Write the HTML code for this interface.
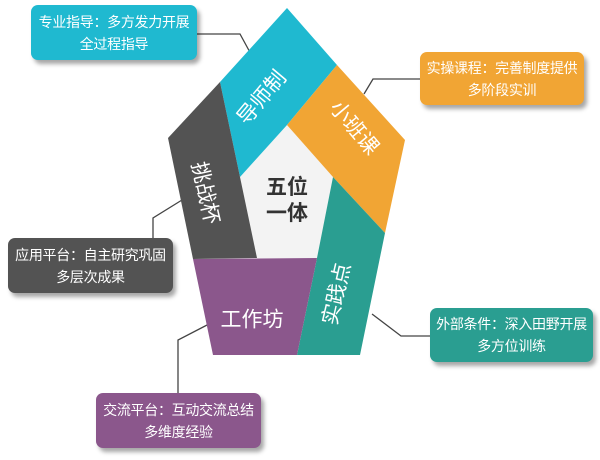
<!DOCTYPE html>
<html><head><meta charset="utf-8"><style>
body{margin:0;width:600px;height:460px;background:#fff;overflow:hidden;font-family:"Liberation Sans","Noto Sans CJK SC",sans-serif}
.box{position:absolute;border-radius:7px;color:#fff;font-size:14px;line-height:22px;text-align:center;box-shadow:3px 4px 4px rgba(0,0,0,.35);display:flex;align-items:center;justify-content:center;white-space:nowrap;letter-spacing:-0.3px}
</style></head><body>
<svg width="600" height="460" style="position:absolute;left:0;top:0" font-family="Liberation Sans, Noto Sans CJK SC, sans-serif">
<g fill="none" stroke="#444" stroke-width="1.3">
<polyline points="197,34 240,34 252,56"/>
<polyline points="420,79 373,79 364,94"/>
<polyline points="153,238 153,218 182,200"/>
<polyline points="430,336 401,336 372,314"/>
<polyline points="178,393 178,340 209,324"/>
</g>
<polygon points="287,125 333,177 317,258 257,258 240,177" fill="#f3f3f3"/>
<polygon points="220,82 287,8 337,65 287,125 240,177" fill="#1fb9d0"/>
<polygon points="337,65 405,140 385,233 333,177 287,125" fill="#f1a534"/>
<polygon points="385,233 360,355 297,355 317,258 333,177" fill="#2a9e91"/>
<polygon points="193,259 317,258 297,355 213,355" fill="#8b578c"/>
<polygon points="168,138 220,82 240,177 257,258 193,259" fill="#535353"/>
<g fill="#fff" font-size="21" text-anchor="middle" dominant-baseline="central">
<text transform="translate(262,98) rotate(-50)">导师制</text>
<text transform="translate(354,128) rotate(50)">小班课</text>
<text transform="translate(205,193) rotate(77)">挑战杯</text>
<text transform="translate(337,294) rotate(-77)">实践点</text>
<text x="252" y="320">工作坊</text>
</g>
<g fill="#333" font-size="21" font-weight="bold" text-anchor="middle">
<text x="287" y="194">五位</text>
<text x="287" y="220">一体</text>
</g>
</svg>
<div class="box" style="left:31px;top:5px;width:166px;height:55px;background:#1fb9d0">专业指导：多方发力开展<br>全过程指导</div>
<div class="box" style="left:420px;top:52px;width:164px;height:53px;background:#f1a534">实操课程：完善制度提供<br>多阶段实训</div>
<div class="box" style="left:8px;top:238px;width:165px;height:55px;background:#535353">应用平台：自主研究巩固<br>多层次成果</div>
<div class="box" style="left:430px;top:308px;width:163px;height:54px;background:#2a9e91">外部条件：深入田野开展<br>多方位训练</div>
<div class="box" style="left:96px;top:393px;width:165px;height:55px;background:#8b578c">交流平台：互动交流总结<br>多维度经验</div>
</body></html>
